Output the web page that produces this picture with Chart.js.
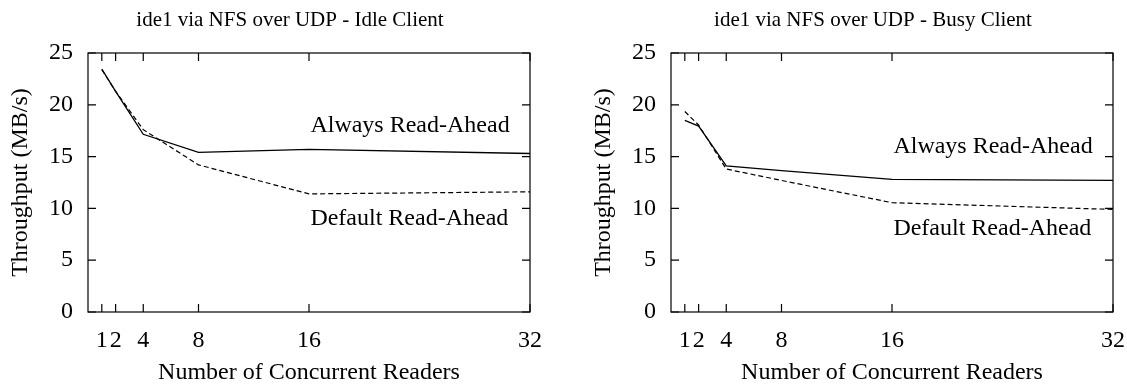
<!DOCTYPE html>
<html>
<head>
<meta charset="utf-8">
<script src="https://cdn.jsdelivr.net/npm/chart.js@4/dist/chart.umd.min.js"></script>
<style>
  html, body { margin: 0; padding: 0; background: #fff; overflow: hidden; }
  #wrap { position: relative; width: 1127px; height: 385px; overflow: hidden; }
  canvas { position: absolute; top: 0; }
  #idle { left: 0; }
  #busy { left: 563px; }
</style>
</head>
<body>
<div id="wrap">
  <canvas id="idle" width="563" height="385"></canvas>
  <canvas id="busy" width="576" height="385"></canvas>
</div>
<script>
const $ = (id) => document.getElementById(id);

// data
const readers = [1, 2, 4, 8, 16, 32];
const xTicks = [1, 2, 4, 8, 16, 32];

const idleAlways = [23.45, 21.3, 17.15, 15.4, 15.7, 15.3];
const idleDefault = [23.4, 21.3, 17.6, 14.2, 11.4, 11.6];

const busyAlways = [18.5, 17.95, 14.1, 13.65, 12.8, 12.7];
const busyDefault = [19.35, 18.05, 13.8, 12.7, 10.55, 9.9];

const seriesNames = ["Always Read-Ahead", "Default Read-Ahead"];
const idleLabelX = [16.1, 16.1];
const idleLabelY = [18, 9];
const busyLabelX = [16.1, 16.1];
const busyLabelY = [16, 8];

const FONT = "'Liberation Serif', 'DejaVu Serif', serif";

const framePlugin = {
    id: "frame",
    afterDraw(chart, args, opts) {
        const { ctx, chartArea: a, scales: { x, y } } = chart;
        ctx.save();
        ctx.strokeStyle = "#000";
        ctx.lineWidth = 1.2;
        ctx.strokeRect(a.left, a.top, a.right - a.left, a.bottom - a.top);

        // inner tick marks on all four sides
        const tl = 8;
        ctx.beginPath();
        for (const t of x.ticks) {
            const px = x.getPixelForValue(t.value);
            ctx.moveTo(px, a.bottom); ctx.lineTo(px, a.bottom - tl);
            ctx.moveTo(px, a.top); ctx.lineTo(px, a.top + tl);
        }
        for (const t of y.ticks) {
            const py = y.getPixelForValue(t.value);
            ctx.moveTo(a.left, py); ctx.lineTo(a.left + tl, py);
            ctx.moveTo(a.right, py); ctx.lineTo(a.right - tl, py);
        }
        ctx.stroke();

        // series labels inside the plot
        ctx.fillStyle = "#000";
        ctx.font = `24px ${FONT}`;
        ctx.textAlign = "left";
        ctx.textBaseline = "middle";
        opts.names.forEach((n, i) => {
            ctx.fillText(n, x.getPixelForValue(opts.lx[i]), y.getPixelForValue(opts.ly[i]));
        });

        // chart title
        ctx.font = `21px ${FONT}`;
        ctx.textAlign = "center";
        ctx.textBaseline = "alphabetic";
        ctx.fillText(opts.title, (a.left + a.right) / 2 - 19, 26);
        ctx.restore();
    }
};

function makeChart(id, title, always, def, lx, ly, yWidth, padRight, yTitlePad) {
    return new Chart($(id).getContext("2d"), {
        type: "line",
        data: {
            datasets: [
                {
                    label: seriesNames[0],
                    data: readers.map((r, i) => ({ x: r, y: always[i] })),
                    borderColor: "#000",
                    borderWidth: 1.3,
                    pointRadius: 0,
                    tension: 0,
                    fill: false
                },
                {
                    label: seriesNames[1],
                    data: readers.map((r, i) => ({ x: r, y: def[i] })),
                    borderColor: "#000",
                    borderWidth: 1.2,
                    borderDash: [5, 3],
                    pointRadius: 0,
                    tension: 0,
                    fill: false
                }
            ]
        },
        options: {
            responsive: false,
            animation: false,
            devicePixelRatio: 1,
            layout: { padding: { top: 53, right: padRight, left: 0, bottom: 0 } },
            plugins: {
                legend: { display: false },
                tooltip: { enabled: false },
                frame: { title: title, names: seriesNames, lx: lx, ly: ly }
            },
            scales: {
                x: {
                    type: "linear",
                    min: 0,
                    max: 32,
                    afterBuildTicks: (s) => { s.ticks = xTicks.map(v => ({ value: v })); },
                    afterFit: (s) => { s.height = 73; },
                    grid: { display: false, drawTicks: false },
                    border: { display: false },
                    ticks: { color: "#000", font: { family: FONT, size: 24 }, padding: 14, maxRotation: 0, autoSkip: false },
                    title: { display: true, text: "Number of Concurrent Readers", color: "#000",
                             font: { family: FONT, size: 24 }, padding: { top: 0, bottom: -2 } }
                },
                y: {
                    min: 0,
                    max: 25,
                    afterFit: (s) => { s.width = yWidth; },
                    grid: { display: false, drawTicks: false },
                    border: { display: false },
                    ticks: { stepSize: 5, color: "#000", font: { family: FONT, size: 24 }, padding: 15 },
                    title: { display: true, text: "Throughput (MB/s)", color: "#000",
                             font: { family: FONT, size: 24 }, padding: { top: yTitlePad, bottom: 0 } }
                }
            }
        },
        plugins: [framePlugin]
    });
}

window.addEventListener("DOMContentLoaded", () => {
    makeChart("idle", "ide1 via NFS over UDP - Idle Client", idleAlways, idleDefault, idleLabelX, idleLabelY, 88, 33, 6.6);
    // canvas runs past the window edge: Chart.js reserves room for the "32" label
    makeChart("busy", "ide1 via NFS over UDP - Busy Client", busyAlways, busyDefault, busyLabelX, busyLabelY, 108, 3, 26);
});
</script>
</body>
</html>
